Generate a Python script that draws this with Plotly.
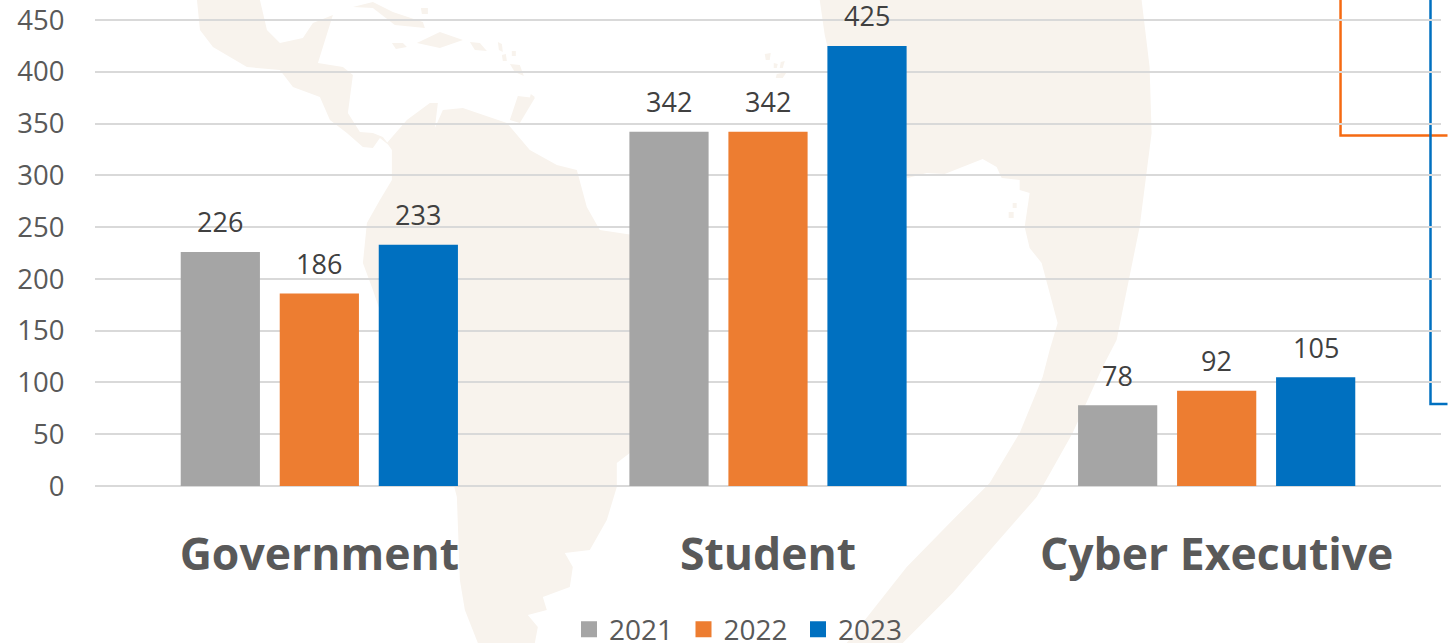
import plotly.graph_objects as go

W, H = 1448, 643
L, R, B = 95, 6.5, 157
T = 0

categories = ["Government", "Student", "Cyber Executive"]
years = ["2021", "2022", "2023"]
v2021 = [226, 342, 78]
v2022 = [186, 342, 92]
v2023 = [233, 425, 105]
series = [v2021, v2022, v2023]
colors = ["#A5A5A5", "#ED7D31", "#0070C0"]
y_ticks = [0, 50, 100, 150, 200, 250, 300, 350, 400, 450]

BEIGE = "#F8F3ED"
# decorative background map, outlined in page pixels
map_regions = [
    # North and Central America
    [(197,0),(200,30),(213,47),(247,67),(280,70),(293,87),(320,97),(330,120),(347,133),(363,147),(373,148),(380,138),(390,146),
     (383,137),(373,133),(360,132),(348,113),(353,75),(343,67),(318,63),(333,15),(313,23),(303,38),(280,43),(267,30),(260,0)],
    # South America
    [(387,143),(407,120),(430,103),(438,103),(435,128),(443,110),(463,108),(507,123),(530,150),(557,165),(577,170),(587,207),
     (600,230),(640,236),(680,300),(680,360),(650,420),(630,453),(617,463),(617,487),(607,520),(590,550),(565,553),(573,567),
     (570,587),(543,597),(547,610),(528,615),(538,627),(535,643),(478,643),(465,610),(460,580),(457,497),(450,470),(420,400),
     (390,340),(373,290),(363,263),(367,223),(380,200),(392,180),(392,150)],
    # Globe crescent
    [(820,0),(825,35),(840,100),(908,178),(927,173),(945,174),(983,159),(997,167),(1002,178),(1020,180),(1020,190),(1030,193),
     (1025,227),(1030,248),(1042,263),(1050,293),(1058,323),(1050,350),(1043,377),(1020,433),(990,483),(953,520),(907,567),(847,643),
     (903,643),(953,593),(1037,497),(1073,433),(1103,367),(1117,340),(1140,227),(1152,133),(1150,67),(1142,0)],
    # Islands
    [(353,7),(373,2),(393,12),(423,22),(425,28),(395,25),(373,8)],
    [(417,43),(440,32),(463,40),(440,48)],
    [(392,43),(403,43),(407,47),(396,49)],
    [(470,42),(480,43),(487,51),(475,50)],
    [(421,8),(428,8),(428,14),(422,14)],
    [(498,42),(502,44),(503,52),(499,50)],
    [(502,55),(506,54),(507,61),(503,61)],
    [(512,51),(516,51),(516,56),(512,56)],
    [(510,64),(520,65),(524,76),(515,72)],
    [(518,96),(535,98),(520,123),(510,120)],
    [(531,94),(535,97),(533,100),(530,98)],
    [(765,54),(771,53),(770,60),(766,60)],
    [(774,63),(778,64),(777,68),(774,68)],
    [(781,62),(785,61),(783,68),(780,68)],
    [(777,74),(787,72),(783,78),(776,78)],
    [(1013,203),(1017,203),(1017,208),(1013,208)],
    [(1009,212),(1014,212),(1014,218),(1009,218)],
]
orange_line = [(1341,0),(1341,135.5),(1448,135.5)]
blue_line = [(1431,0),(1431,404),(1448,404)]


def px(pt):
    return (pt[0] - L) / (W - L - R), (H - B - pt[1]) / (H - B - T)


def path(points, close=True):
    s = "M" + " L".join("%.5f,%.5f" % px(p) for p in points)
    return s + (" Z" if close else "")


shapes = [dict(type="path", path=path(r), xref="paper", yref="paper", layer="below",
               fillcolor=BEIGE, line=dict(width=0)) for r in map_regions]
shapes.append(dict(type="path", path=path(orange_line, False), xref="paper", yref="paper", layer="below",
                   line=dict(color="#F56A12", width=2.5)))
shapes.append(dict(type="path", path=path(blue_line, False), xref="paper", yref="paper", layer="below",
                   line=dict(color="#0070C0", width=2.5)))

fig = go.Figure()
for name, vals, col in zip(years, series, colors):
    fig.add_bar(x=categories, y=vals, name=name, marker=dict(color=col, line=dict(width=0)),
                showlegend=False)
for name, col in zip(years, colors):
    fig.add_scatter(x=[None], y=[None], mode="markers", name=name,
                    marker=dict(symbol="square", size=16, color=col))

SLOT = 0.2205
annotations = []
for j, vals in enumerate(series):
    for i, v in enumerate(vals):
        annotations.append(dict(x=i + (j - 1) * SLOT, y=v, xref="x", yref="y", text=str(v), showarrow=False,
                                yshift=30, yanchor="middle", xanchor="center",
                                font=dict(family="Open Sans", size=27, color="#404040")))

fig.update_layout(
    width=W, height=H, autosize=False,
    margin=dict(l=L, r=R, t=T, b=B, pad=0),
    paper_bgcolor="rgba(0,0,0,0)", plot_bgcolor="rgba(0,0,0,0)",
    barmode="group", bargap=0.338, bargroupgap=0.2,
    shapes=shapes, annotations=annotations,
    showlegend=True,
    legend=dict(orientation="h", x=569 / W, xanchor="left", xref="container",
                y=38.5 / H, yanchor="top", yref="container", entrywidth=69.5, entrywidthmode="pixels",
                font=dict(family="Open Sans", size=28, color="#595959"), traceorder="normal",
                bgcolor="rgba(0,0,0,0)"),
    xaxis=dict(type="category", range=[-0.5, 2.5], showgrid=False, zeroline=False, showline=False,
               ticks="outside", ticklen=30, tickcolor="rgba(0,0,0,0)",
               tickfont=dict(family="Open Sans", size=44.5, color="#595959", weight=700)),
    yaxis=dict(range=[0, 469.3], tickvals=y_ticks, showgrid=True, gridcolor="#D9D9D9", gridwidth=2,
               zeroline=True, zerolinecolor="#D9D9D9", zerolinewidth=2, showline=False,
               ticks="outside", ticklen=24, tickcolor="rgba(0,0,0,0)", ticklabeloverflow="allow",
               tickfont=dict(family="Open Sans", size=27.5, color="#595959")),
    font=dict(family="Open Sans"),
)

fig.write_html("out.html", post_script="document.body.style.margin='0';document.body.style.overflow='hidden';",
               config=dict(displayModeBar=False))
